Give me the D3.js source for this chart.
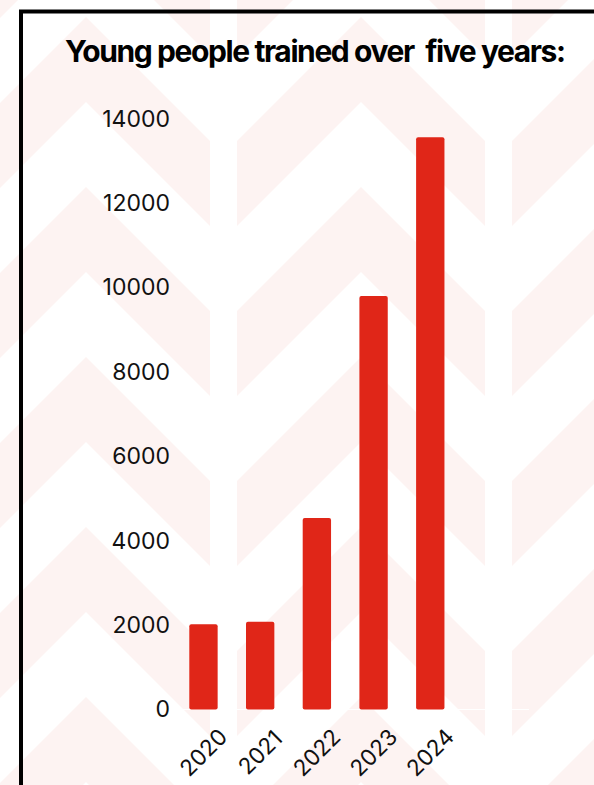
<!DOCTYPE html>
<html>
<head>
<meta charset="utf-8">
<script src="https://cdn.jsdelivr.net/npm/d3@7"></script>
<style>
  body { margin: 0; background: #fff; }
  svg { display: block; }
</style>
</head>
<body>
<div id="chart-container"></div>
<script>
// data
const years = ["2020", "2021", "2022", "2023", "2024"];
const trained = [2020, 2080, 4540, 9800, 13560];
const yTicks = [0, 2000, 4000, 6000, 8000, 10000, 12000, 14000];
const title = "Young people trained over  five years:";

const width = 594;
const height = 785;

const svg = d3.select("#chart-container")
  .append("svg")
    .attr("width", width)
    .attr("height", height);

// faint chevron pattern behind everything
const bg = svg.append("g");
const colCenters = [-189, 86, 361, 636];
const half = 124, band = 85;
colCenters.forEach(cx => {
  for (let m = -3; m <= 3; m++) {
    const y0 = 357 + 170 * m;
    bg.append("path")
      .attr("d", `M${cx - half},${y0 + half} L${cx},${y0} L${cx + half},${y0 + half} L${cx + half},${y0 + half + band} L${cx},${y0 + band} L${cx - half},${y0 + half + band} Z`)
      .attr("fill", "#fdf3f2");
  }
});

// black frame (top + left)
svg.append("path")
  .attr("d", `M21,${height} V11.5 H${width}`)
  .attr("fill", "none")
  .attr("stroke", "#000")
  .attr("stroke-width", 4);

// title
svg.append("text")
  .attr("x", 65)
  .attr("y", 62)
  .attr("textLength", 501)
  .attr("lengthAdjust", "spacing")
  .style("white-space", "pre")
  .style("font-family", "Inter, 'Noto Sans', sans-serif")
  .style("font-weight", 700)
  .style("font-size", "30px")
  .attr("fill", "#000")
  .text(title);

// scales
const x = d3.scaleBand()
  .domain(years)
  .range([160.95, 472.8])
  .padding(0.5);

const y = d3.scaleLinear()
  .domain([0, 14000])
  .range([709.5, 118.7]);

// baseline (white, only shows over the pink)
svg.append("line")
  .attr("x1", 175).attr("x2", 529)
  .attr("y1", 709.5).attr("y2", 709.5)
  .attr("stroke", "#fff")
  .attr("stroke-width", 1);

// bars
svg.append("g")
  .selectAll("rect")
  .data(years)
  .join("rect")
    .attr("x", d => x(d))
    .attr("width", x.bandwidth())
    .attr("y", (d, i) => y(trained[i]))
    .attr("height", (d, i) => y(0) - y(trained[i]))
    .attr("rx", 2)
    .attr("fill", "#e02618");

// y axis
const yAxis = svg.append("g")
  .attr("transform", "translate(178,0)")
  .call(d3.axisLeft(y)
    .tickValues(yTicks)
    .tickSize(0)
    .tickPadding(8)
    .tickFormat(d3.format("d")));
yAxis.select(".domain").remove();
yAxis.selectAll("text")
  .style("font-family", "Inter, 'Noto Sans', sans-serif")
  .style("font-size", "23px")
  .attr("fill", "#111");

// x axis, rotated labels
const xAxis = svg.append("g")
  .attr("transform", "translate(0,709.5)")
  .call(d3.axisBottom(x).tickSize(0));
xAxis.select(".domain").remove();
xAxis.selectAll("text")
  .attr("y", 0)
  .attr("dy", "0.35em")
  .attr("text-anchor", "middle")
  .attr("transform", "translate(0,43) rotate(-45)")
  .style("font-family", "Inter, 'Noto Sans', sans-serif")
  .style("font-size", "22.5px")
  .attr("fill", "#111");
</script>
</body>
</html>
